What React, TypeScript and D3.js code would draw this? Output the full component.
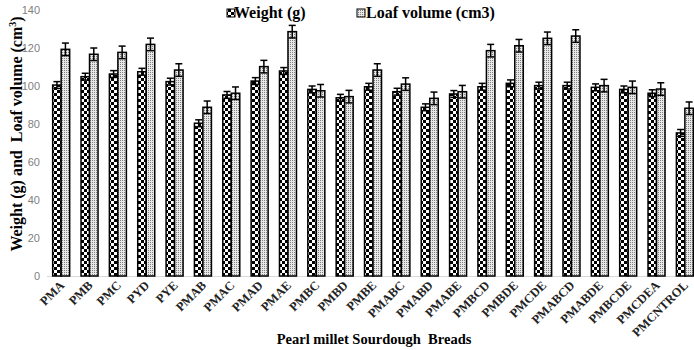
import React from "react";
import * as d3 from "d3";

const categories = ["PMA","PMB","PMC","PYD","PYE","PMAB","PMAC","PMAD","PMAE","PMBC","PMBD","PMBE","PMABC","PMABD","PMABE","PMBCD","PMBDE","PMCDE","PMABCD","PMABDE","PMBCDE","PMCDEA","PMCNTROL"];
const weight = [100.5,104.9,106.3,107.5,102.3,80.4,95.3,102.6,107.9,98.2,93.8,99.6,97,88.8,95.8,99.6,101.4,100.2,100.2,99.3,98.2,96.2,75.3];
const weightErr = [1.8,1.8,1.8,1.8,1.8,1.8,1.8,1.8,1.8,1.8,1.8,1.8,1.8,1.8,1.8,1.8,1.8,1.8,1.8,1.8,1.8,1.8,1.8];
const loaf = [119.3,116.7,117.7,121.9,108.4,88.8,96.2,110.2,128.6,97.5,94.4,108.4,101,93.5,97,118.6,121.2,125.1,126.3,100.2,99.3,98.4,88.3];
const loafErr = [3.3,3.3,3.3,3.3,3.3,3.3,3.3,3.3,3.3,3.3,3.3,3.3,3.3,3.3,3.3,3.3,3.3,3.3,3.3,3.3,3.3,3.3,3.3];
const yTicks = [0,20,40,60,80,100,120,140];

const W = 694, H = 350;
const x = d3.scaleBand<string>().domain(categories).range([47, 47 + 23 * 28.35]).paddingInner(0).paddingOuter(0);
const y = d3.scaleLinear().domain([0, 140]).range([276, 10]);
const barW = 8.5;
const serif = "'Liberation Serif', 'Times New Roman', serif";
const sans = "'Liberation Sans', Arial, sans-serif";

export default function App() {
  return (
    <svg width={W} height={H} style={{ position: "absolute", left: 0, top: 0, background: "#fff" }}>
      <defs>
        <pattern id="chk" width="6" height="6" patternUnits="userSpaceOnUse">
          <rect width="6" height="6" fill="#000" />
          <rect x="0" y="0" width="3" height="3" fill="#fff" />
          <rect x="3" y="3" width="3" height="3" fill="#fff" />
        </pattern>
        <pattern id="dots" width="2" height="2" patternUnits="userSpaceOnUse">
          <rect width="2" height="2" fill="#e8e8e8" />
          <rect x="0" y="0" width="1" height="1" fill="#808080" />
        </pattern>
      </defs>
      <rect width={W} height={H} fill="#fff" />
      {yTicks.map(t => (
        <text key={t} x={40} y={y(t) + 4} textAnchor="end" fontFamily={sans} fontSize={11} fill="#7f7f7f">{t}</text>
      ))}
      <line x1={47} x2={W} y1={276.5} y2={276.5} stroke="#d9d9d9" strokeWidth={1} />
      {categories.map((c, i) => {
        const cx = (x(c) as number) + x.bandwidth() / 2;
        const wx = cx - barW;
        const lx = cx;
        return (
          <g key={c}>
            <rect x={wx} y={y(weight[i])} width={barW} height={276 - y(weight[i])} fill="url(#chk)" stroke="#000" strokeWidth={1.5} />
            <rect x={lx} y={y(loaf[i])} width={barW} height={276 - y(loaf[i])} fill="url(#dots)" stroke="#000" strokeWidth={1.5} />
            <g stroke="#000" strokeWidth={1.5}>
              <line x1={wx + barW / 2} x2={wx + barW / 2} y1={y(weight[i] + weightErr[i])} y2={y(weight[i] - weightErr[i])} />
              <line x1={wx + barW / 2 - 3.5} x2={wx + barW / 2 + 3.5} y1={y(weight[i] + weightErr[i])} y2={y(weight[i] + weightErr[i])} />
              <line x1={wx + barW / 2 - 3.5} x2={wx + barW / 2 + 3.5} y1={y(weight[i] - weightErr[i])} y2={y(weight[i] - weightErr[i])} />
              <line x1={lx + barW / 2} x2={lx + barW / 2} y1={y(loaf[i] + loafErr[i])} y2={y(loaf[i] - loafErr[i])} />
              <line x1={lx + barW / 2 - 3.5} x2={lx + barW / 2 + 3.5} y1={y(loaf[i] + loafErr[i])} y2={y(loaf[i] + loafErr[i])} />
              <line x1={lx + barW / 2 - 3.5} x2={lx + barW / 2 + 3.5} y1={y(loaf[i] - loafErr[i])} y2={y(loaf[i] - loafErr[i])} />
            </g>
            <text transform={`translate(${cx + 4},${286}) rotate(-45)`} textAnchor="end" fontFamily={serif} fontWeight="bold" fontSize={12.5} fill="#222">{c}</text>
          </g>
        );
      })}
      <g>
        <rect x={227} y={9} width={8} height={8} fill="url(#chk)" stroke="#000" strokeWidth={1} />
        <text x={234} y={18} fontFamily={serif} fontWeight="bold" fontSize={16} fill="#000">Weight (g)</text>
        <rect x={357} y={9} width={8} height={8} fill="url(#dots)" stroke="#000" strokeWidth={1} />
        <text x={366} y={18} fontFamily={serif} fontWeight="bold" fontSize={16} fill="#000">Loaf volume (cm3)</text>
      </g>
      <text transform={`translate(22,${134}) rotate(-90)`} textAnchor="middle" fontFamily={serif} fontWeight="bold" fontSize={16} fill="#000" style={{ whiteSpace: "pre" }}>
        Weight (g) and  Loaf volume (cm<tspan dy={-6} fontSize={10}>3</tspan><tspan dy={6}>)</tspan>
      </text>
      <text x={374} y={344} textAnchor="middle" fontFamily={serif} fontWeight="bold" fontSize={14.5} fill="#000" style={{ whiteSpace: "pre" }}>Pearl millet Sourdough  Breads</text>
    </svg>
  );
}
